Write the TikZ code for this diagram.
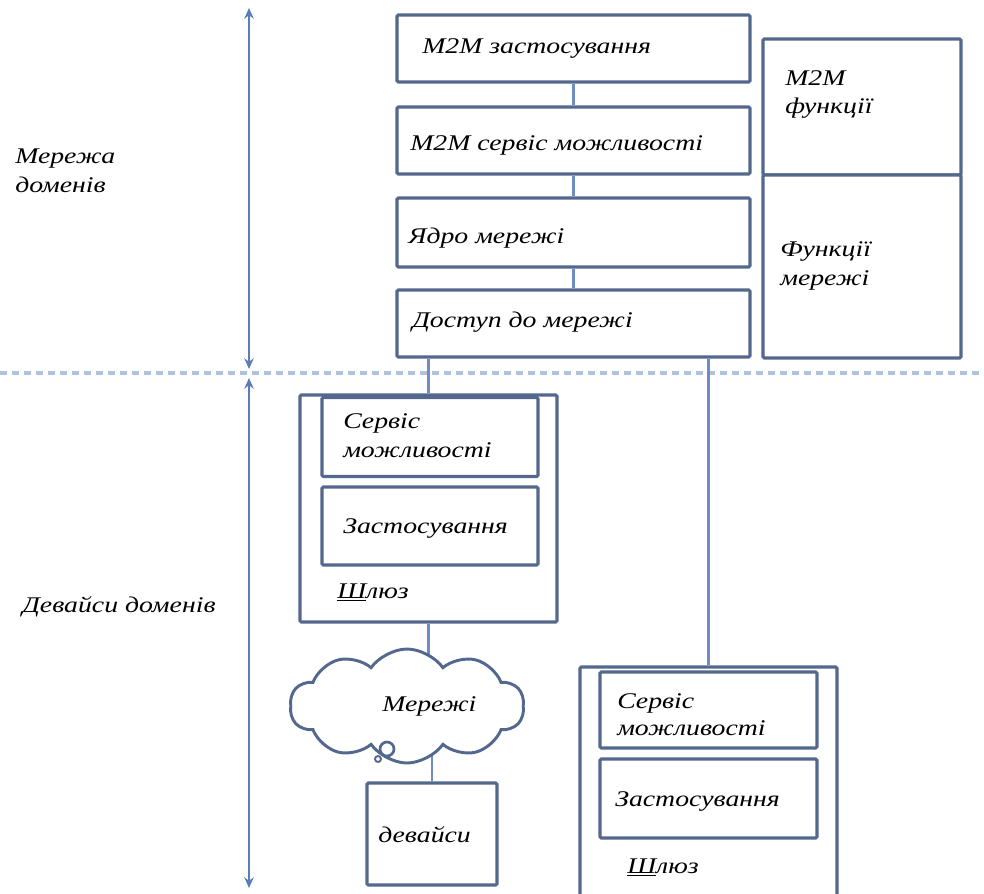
\documentclass[tikz,border=0pt]{standalone}
\usepackage{fontspec}
\newfontfamily\lbl[FakeStretch=1.24]{Liberation Serif}
\usetikzlibrary{shapes.symbols,arrows.meta,backgrounds}
\definecolor{boxline}{RGB}{84,104,142}
\definecolor{linkline}{RGB}{112,140,196}
\definecolor{arrowline}{RGB}{92,124,180}
\definecolor{sepline}{RGB}{176,194,220}
\tikzset{
  blk/.style={draw=boxline, line width=2.3pt, fill=white, rounded corners=1pt, inner sep=0pt},
  link/.style={draw=linkline, line width=1.6pt},
  txt/.style={anchor=base west, inner sep=0pt, font=\lbl\itshape\fontsize{16.8}{19}\selectfont},
  span/.style={draw=arrowline, line width=1.6pt, {Stealth[length=8pt,width=7pt]}-{Stealth[length=8pt,width=7pt]}},
}
\begin{document}
\begin{tikzpicture}[x=0.75pt,y=-0.75pt]
\useasboundingbox (0,0) rectangle (984,893);

% network domain stack
\node[blk, minimum width=353*0.75pt, minimum height=67*0.75pt] (app) at (573.5,48.5) {};
\node[blk, minimum width=353*0.75pt, minimum height=67*0.75pt] (svc) at (573.5,140.5) {};
\node[blk, minimum width=353*0.75pt, minimum height=69*0.75pt] (core) at (573.5,232.5) {};
\node[blk, minimum width=353*0.75pt, minimum height=67*0.75pt] (acc) at (573.5,323.5) {};
\draw[link] (app.south) -- (svc.north);
\draw[link] (svc.south) -- (core.north);
\draw[link] (core.south) -- (acc.north);

% function column
\node[blk, minimum width=198*0.75pt, minimum height=136*0.75pt] (m2mf) at (862,107) {};
\node[blk, minimum width=198*0.75pt, minimum height=183*0.75pt] (netf) at (862,266.5) {};

% domain separator
\coordinate (sepL) at (0,373);
\coordinate (sepR) at (984,373);
\draw[sepline, line width=2.4pt, dash pattern=on 5pt off 4pt] (sepL) -- (sepR);

% extent arrows
\coordinate (aTop) at (249,8);
\coordinate (aMidA) at (249,369);
\coordinate (aMidB) at (249,378);
\coordinate (aBot) at (249,888);
\draw[span] (aTop) -- (aMidA);
\draw[span] (aMidB) -- (aBot);

% left gateway
\node[blk, minimum width=257*0.75pt, minimum height=227*0.75pt] (gwL) at (428.5,508.5) {};
\node[blk, minimum width=216*0.75pt, minimum height=79*0.75pt] (gwLs) at (430,437) {};
\node[blk, minimum width=216*0.75pt, minimum height=78*0.75pt] (gwLa) at (430,526) {};

% right gateway
\node[blk, minimum width=257*0.75pt, minimum height=240*0.75pt] (gwR) at (708.5,787) {};
\node[blk, minimum width=217*0.75pt, minimum height=76*0.75pt] (gwRs) at (708.5,710) {};
\node[blk, minimum width=217*0.75pt, minimum height=79*0.75pt] (gwRa) at (708.5,798.5) {};

\draw[link] (acc.south -| gwL.north) -- (gwL.north);
\draw[link] (acc.south -| gwR.north) -- (gwR.north);

% local network cloud and devices
\node[cloud, draw=boxline, line width=2.2pt, fill=white, cloud puffs=10, cloud puff arc=110,
      aspect=2, minimum width=234*0.75pt, minimum height=114*0.75pt, inner sep=0pt] (net) at (407,706) {};
\node[blk, minimum width=130*0.75pt, minimum height=102*0.75pt] (dev) at (432,834) {};
\begin{scope}[on background layer]
  \draw[link] (gwL.south) -- (gwL.south |- net.center);
  \draw[link] (dev.north) -- (dev.north |- net.center);
\end{scope}
\node[circle, draw=boxline, line width=2pt, fill=white, minimum size=14*0.75pt, inner sep=0pt] (bub1) at (387,749) {};
\node[circle, draw=boxline, line width=1.4pt, fill=white, minimum size=6*0.75pt, inner sep=0pt] (bub2) at (378,759) {};

% labels
\node[txt] (tApp) at (422,53) {М2М застосування};
\node[txt] (tSvc) at (410,150) {М2М сервіс можливості};
\node[txt] (tCore) at (408,243) {Ядро мережі};
\node[txt] (tAcc) at (412,327) {Доступ до мережі};
\node[txt] (tM2Mf1) at (785,85) {М2М};
\node[txt] (tM2Mf2) at (785,113) {функції};
\node[txt] (tNetf1) at (780,256) {Функції};
\node[txt] (tNetf2) at (780,285) {мережі};
\node[txt] (tDom1) at (15,163) {Мережа};
\node[txt] (tDom2) at (15,192) {доменів};
\node[txt] (tDev) at (22,612) {Девайси доменів};

\node[txt] (tLs1) at (343,428) {Сервіс};
\node[txt] (tLs2) at (343,457) {можливості};
\node[txt] (tLa) at (343,533) {Застосування};
\node[txt] (tLg) at (337,598) {\underline{Ш}люз};

\node[txt] (tNet) at (382,711) {Мережі};
\node[txt] (tDevs) at (378,842) {девайси};

\node[txt] (tRs1) at (617,708) {Сервіс};
\node[txt] (tRs2) at (617,735) {можливості};
\node[txt] (tRa) at (615,806) {Застосування};
\node[txt] (tRg) at (627,873) {\underline{Ш}люз};
\end{tikzpicture}
\end{document}
